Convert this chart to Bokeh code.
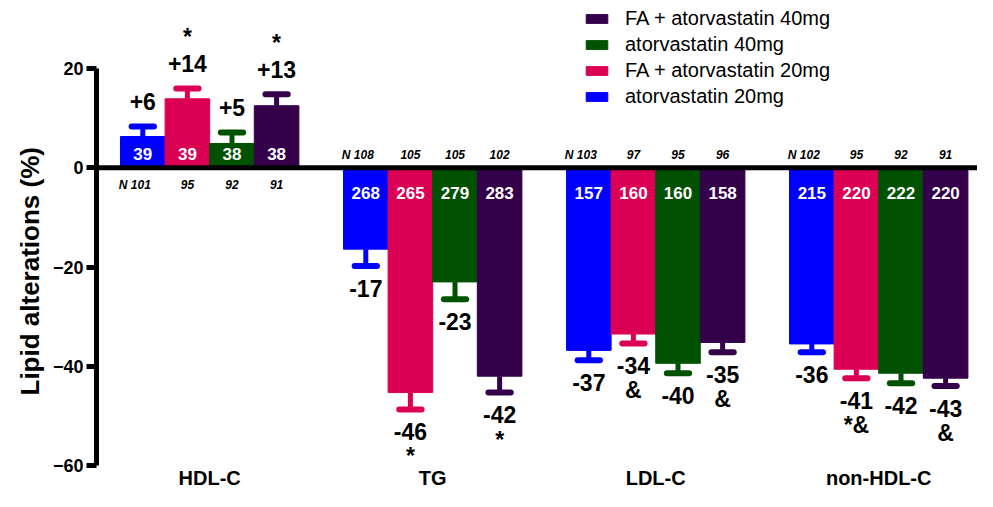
from bokeh.plotting import figure
from bokeh.models import ColumnDataSource, Span, FixedTicker, Legend, LegendItem, Title
from bokeh.core.properties import value
from bokeh.embed import file_html
from bokeh.resources import INLINE

# ---------------- data ----------------
categories = ["HDL-C", "TG", "LDL-C", "non-HDL-C"]
series = ["atorvastatin 20mg", "FA + atorvastatin 20mg",
          "atorvastatin 40mg", "FA + atorvastatin 40mg"]
colors = ["#0000FF", "#DC0055", "#005200", "#35004A"]

mean_a20 = [6.3, -16.4, -36.8, -35.5]
mean_fa20 = [13.9, -45.3, -33.5, -40.6]
mean_a40 = [4.9, -23.0, -39.4, -41.4]
mean_fa40 = [12.5, -42.0, -35.2, -42.4]

err_a20 = [2.0, 3.4, 2.0, 1.7]
err_fa20 = [2.1, 3.4, 1.9, 1.8]
err_a40 = [2.2, 3.5, 2.0, 2.0]
err_fa40 = [2.3, 3.3, 2.0, 1.6]

lab_a20 = ["+6", "-17", "-37", "-36"]
lab_fa20 = ["+14", "-46", "-34", "-41"]
lab_a40 = ["+5", "-23", "-40", "-42"]
lab_fa40 = ["+13", "-42", "-35", "-43"]

sig_a20 = ["", "", "", ""]
sig_fa20 = ["*", "*", "&", "*&"]
sig_a40 = ["", "", "", ""]
sig_fa40 = ["*", "*", "&", "&"]

base_a20 = [39, 268, 157, 215]
base_fa20 = [39, 265, 160, 220]
base_a40 = [38, 279, 160, 222]
base_fa40 = [38, 283, 158, 220]

n_a20 = [101, 108, 103, 102]
n_fa20 = [95, 105, 97, 95]
n_a40 = [92, 105, 95, 92]
n_fa40 = [91, 102, 96, 91]

yticks = [-60, -40, -20, 0, 20]

means = [mean_a20, mean_fa20, mean_a40, mean_fa40]
errs = [err_a20, err_fa20, err_a40, err_fa40]
labs = [lab_a20, lab_fa20, lab_a40, lab_fa40]
sigs = [sig_a20, sig_fa20, sig_a40, sig_fa40]
bases = [base_a20, base_fa20, base_a40, base_fa40]
ns = [n_a20, n_fa20, n_a40, n_fa40]

FONT = "Liberation Sans"
GROUP = 5  # 4 bars + 1 gap per category

p = figure(width=977, height=491,
           x_range=(-0.538, 19.215), y_range=(-60.2, 33.71),
           output_backend="svg", toolbar_location=None,
           min_border_left=96, min_border_right=0,
           min_border_top=0, min_border_bottom=23)
p.outline_line_color = None
p.xgrid.grid_line_color = None
p.ygrid.grid_line_color = None
p.background_fill_color = "white"
p.border_fill_color = "white"

renderers = []
txt = dict(x=[], y=[], lab=[], lab_off=[], sig=[], sig_off=[],
           base=[], base_off=[], n=[], n_off=[], n_xoff=[])
for s in range(4):
    xs = [g * GROUP + s + 0.5 for g in range(4)]
    m = means[s]
    e = errs[s]
    ends = [mi + ei if mi > 0 else mi - ei for mi, ei in zip(m, e)]
    src = ColumnDataSource(dict(x=xs, top=m, end=ends,
                                x0=[x - 0.25 for x in xs],
                                x1=[x + 0.25 for x in xs]))
    r = p.vbar(x="x", top="top", bottom=0, width=1.0, source=src,
               fill_color=colors[s], line_color=colors[s], line_width=1)
    renderers.append(r)
    p.segment(x0="x", y0="top", x1="x", y1="end", source=src,
              line_color=colors[s], line_width=5)
    p.segment(x0="x0", y0="end", x1="x1", y1="end", source=src,
              line_color=colors[s], line_width=6, line_cap="round")
    for g in range(4):
        pos = m[g] > 0
        txt["x"].append(xs[g])
        txt["y"].append(ends[g])
        txt["lab"].append(labs[s][g])
        txt["lab_off"].append(-25 if pos else 22)
        txt["sig"].append(sigs[s][g])
        txt["sig_off"].append(-51 if pos else 47)
        txt["base"].append(str(bases[s][g]))
        txt["base_off"].append(-14 if pos else 25)
        txt["n"].append(("N " if s == 0 else "") + str(ns[s][g]))
        txt["n_off"].append(17 if pos else -13)
        txt["n_xoff"].append(-8 if s == 0 else 0)

tsrc = ColumnDataSource(txt)
tsrc.data["zero"] = [0] * len(txt["x"])

p.text(x="x", y="y", text="lab", y_offset="lab_off", source=tsrc,
       text_font=value(FONT), text_font_style="bold", text_font_size="23px",
       text_align="center", text_baseline="middle", text_color="black")
p.text(x="x", y="y", text="sig", y_offset="sig_off", source=tsrc,
       text_font=value(FONT), text_font_style="bold", text_font_size="23px",
       text_align="center", text_baseline="middle", text_color="black")
p.text(x="x", y="zero", text="base", y_offset="base_off", source=tsrc,
       text_font=value(FONT), text_font_style="bold", text_font_size="17px",
       text_align="center", text_baseline="middle", text_color="white")
p.text(x="x", y="zero", text="n", y_offset="n_off", x_offset="n_xoff",
       source=tsrc,
       text_font=value(FONT), text_font_style="bold italic",
       text_font_size="12px",
       text_align="center", text_baseline="middle", text_color="black")

# zero line
p.add_layout(Span(location=0, dimension="width", line_color="black",
                  line_width=5))

# y axis
ya = p.yaxis[0]
ya.ticker = FixedTicker(ticks=yticks)
ya.bounds = (-60, 20)
ya.axis_line_width = 5
ya.axis_line_color = "black"
ya.major_tick_line_width = 5
ya.major_tick_line_color = "black"
ya.major_tick_out = 10
ya.major_tick_in = 0
ya.minor_tick_line_color = None
ya.major_label_standoff = 3
ya.major_label_text_font = FONT
ya.major_label_text_font_style = "bold"
ya.major_label_text_font_size = "18px"
ya.major_label_text_color = "black"

# y-axis title, placed where the reference puts it
p.add_layout(Title(text="Lipid alterations (%)", align="left", offset=71,
                   text_font=FONT, text_font_style="bold",
                   text_font_size="26px", text_color="black"), "left")

# x axis with category labels
xa = p.xaxis[0]
centers = [g * GROUP + 2 for g in range(len(categories))]
xa.ticker = FixedTicker(ticks=centers)
xa.major_label_overrides = {c: name for c, name in zip(centers, categories)}
xa.axis_line_color = None
xa.major_tick_line_color = None
xa.minor_tick_line_color = None
xa.major_tick_out = 0
xa.major_tick_in = 0
xa.major_label_standoff = 0
xa.major_label_text_font = FONT
xa.major_label_text_font_style = "bold"
xa.major_label_text_font_size = "20px"
xa.major_label_text_color = "black"

# legend (top entry = last series)
items = [LegendItem(label=series[i], renderers=[renderers[i]])
         for i in [3, 2, 1, 0]]
legend = Legend(items=items, location=(487, 358))
legend.border_line_color = None
legend.background_fill_alpha = 0
legend.padding = 0
legend.margin = 0
legend.spacing = 3
legend.glyph_width = 27
legend.glyph_height = 11
legend.label_standoff = 15
legend.label_height = 23
legend.label_text_font = FONT
legend.label_text_font_size = "20px"
legend.label_text_color = "black"
p.add_layout(legend)

open("out.html", "w").write(file_html(p, INLINE))
